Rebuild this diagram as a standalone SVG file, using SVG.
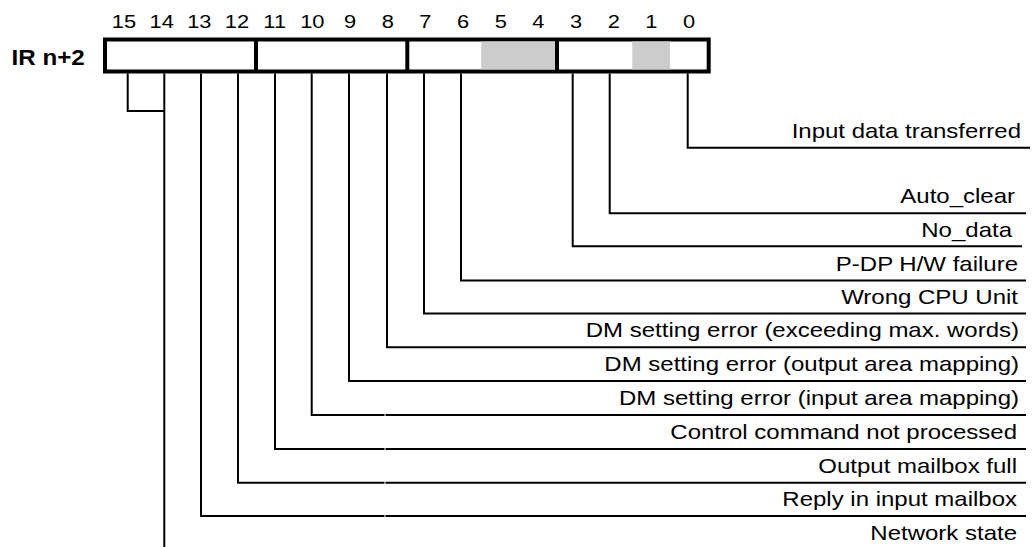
<svg xmlns="http://www.w3.org/2000/svg" width="1035" height="547" viewBox="0 0 1035 547">
<style>
text{font-family:"Liberation Sans",Arial,sans-serif;fill:#000}
.num{font-size:19px;text-anchor:middle}
.lbl{font-size:20px;text-anchor:end}
.ttl{font-size:22px;font-weight:bold}
.wire{fill:none;stroke:#000;stroke-width:2}
.box{fill:#fff;stroke:#000;stroke-width:4}
.res{fill:#cccccc}
</style>
<rect width="1035" height="547" fill="#fff"/>
<g id="title"><text class="ttl" transform="translate(11.5,65) scale(1.1,1)">IR n+2</text></g>
<g id="bitnumbers">
<text class="num" transform="translate(124,28) scale(1.15,1)">15</text>
<text class="num" transform="translate(161.7,28) scale(1.15,1)">14</text>
<text class="num" transform="translate(199.3,28) scale(1.15,1)">13</text>
<text class="num" transform="translate(237,28) scale(1.15,1)">12</text>
<text class="num" transform="translate(274.7,28) scale(1.15,1)">11</text>
<text class="num" transform="translate(312.3,28) scale(1.15,1)">10</text>
<text class="num" transform="translate(350,28) scale(1.15,1)">9</text>
<text class="num" transform="translate(387.7,28) scale(1.15,1)">8</text>
<text class="num" transform="translate(425.4,28) scale(1.15,1)">7</text>
<text class="num" transform="translate(463,28) scale(1.15,1)">6</text>
<text class="num" transform="translate(500.7,28) scale(1.15,1)">5</text>
<text class="num" transform="translate(538.4,28) scale(1.15,1)">4</text>
<text class="num" transform="translate(576,28) scale(1.15,1)">3</text>
<text class="num" transform="translate(613.7,28) scale(1.15,1)">2</text>
<text class="num" transform="translate(651.4,28) scale(1.15,1)">1</text>
<text class="num" transform="translate(689,28) scale(1.15,1)">0</text>
</g>
<g id="register">
<rect class="box" x="105" y="39.5" width="603.7" height="32"/>
<rect class="res" x="481.3" y="41.5" width="73.7" height="28"/>
<rect class="res" x="632.3" y="41.5" width="37.7" height="28"/>
<line x1="256" y1="39.5" x2="256" y2="71.5" stroke="#000" stroke-width="4"/>
<line x1="407.3" y1="39.5" x2="407.3" y2="71.5" stroke="#000" stroke-width="4"/>
<line x1="557" y1="39.5" x2="557" y2="71.5" stroke="#000" stroke-width="4"/>
</g>
<g id="connectors">
<path class="wire" d="M127.7,73.5 V111 H164.3"/>
<path class="wire" d="M164.3,73.5 V547"/>
<path class="wire" d="M201,73.5 V516 H384.5 M385.5,516 H1026"/>
<path class="wire" d="M238,73.5 V482.7 H384.5 M385.5,482.7 H1026"/>
<path class="wire" d="M275,73.5 V449 H384.5 M385.5,449 H1026"/>
<path class="wire" d="M311.7,73.5 V415 H384.5 M385.5,415 H1026"/>
<path class="wire" d="M349,73.5 V381 H1026"/>
<path class="wire" d="M387,73.5 V347.3 H1026"/>
<path class="wire" d="M424,73.5 V313.5 H1026"/>
<path class="wire" d="M461,73.5 V280.5 H1026"/>
<path class="wire" d="M572.7,73.5 V246.3 H1022"/>
<path class="wire" d="M609.7,73.5 V213.3 H1026"/>
<path class="wire" d="M687.7,73.5 V147.7 H1030"/>
</g>
<g id="labels">
<g id="bit0"><text class="lbl" transform="translate(1021,137.7) scale(1.2,1)">Input data transferred</text></g>
<g id="bit2"><text class="lbl" transform="translate(1015,203.3) scale(1.2,1)">Auto_clear</text></g>
<g id="bit3"><text class="lbl" transform="translate(1012,237) scale(1.2,1)">No_data</text></g>
<g id="bit6"><text class="lbl" transform="translate(1018,270.5) scale(1.2,1)">P-DP H/W failure</text></g>
<g id="bit7"><text class="lbl" transform="translate(1018,303.5) scale(1.2,1)">Wrong CPU Unit</text></g>
<g id="bit8"><text class="lbl" transform="translate(1019,337.3) scale(1.2,1)">DM setting error (exceeding max. words)</text></g>
<g id="bit9"><text class="lbl" transform="translate(1019,371) scale(1.2,1)">DM setting error (output area mapping)</text></g>
<g id="bit10"><text class="lbl" transform="translate(1019,405) scale(1.2,1)">DM setting error (input area mapping)</text></g>
<g id="bit11"><text class="lbl" transform="translate(1017,439) scale(1.2,1)">Control command not processed</text></g>
<g id="bit12"><text class="lbl" transform="translate(1017,472.7) scale(1.2,1)">Output mailbox full</text></g>
<g id="bit13"><text class="lbl" transform="translate(1017,506) scale(1.2,1)">Reply in input mailbox</text></g>
<g id="bit14"><text class="lbl" transform="translate(1017,540) scale(1.2,1)">Network state</text></g>
</g>
</svg>
